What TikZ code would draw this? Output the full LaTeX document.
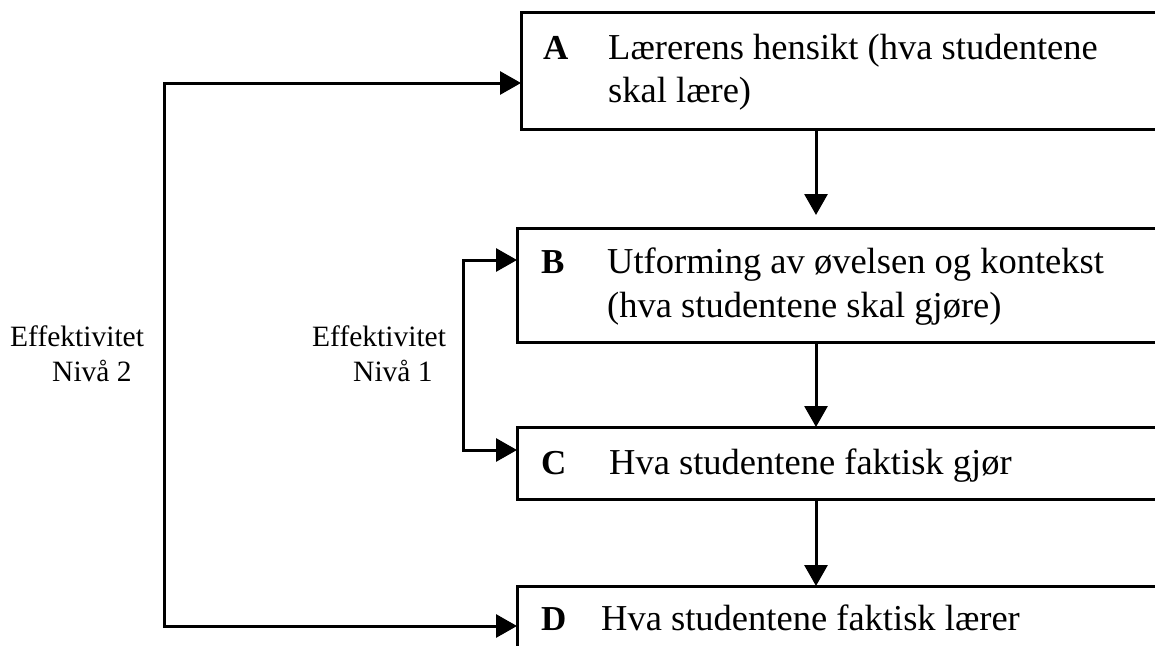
\documentclass[tikz,border=0pt]{standalone}
\usepackage{fontspec}
\setmainfont{Liberation Serif}
\usetikzlibrary{arrows.meta}

\begin{document}
\begin{tikzpicture}
[x=1pt,y=-1pt,
  boxdecorate/.style={shape=rectangle,draw,line width=3pt,anchor=north west,outer sep=0pt,inner sep=0pt,minimum width=800pt},%
  arrowdecorate/.style={-{Triangle[length=21pt,width=23pt]},line width=3pt},%
  loopdecorate/.style={{Triangle[length=21pt,width=23pt]}-{Triangle[length=21pt,width=23pt]},line width=3pt},%
  letterdecorate/.style={anchor=base west,inner sep=0pt,font=\bfseries\fontsize{35}{40}\selectfont},%
  textdecorate/.style={anchor=base west,inner sep=0pt,font=\fontsize{36.5}{44}\selectfont},%
  labeldecorate/.style={anchor=base west,inner sep=0pt,font=\fontsize{29.5}{35}\selectfont}]
\useasboundingbox (0,0) rectangle (1155,645);
\clip (0,0) rectangle (1155,645);
%% boxes
\foreach \nodename/\x/\y/\h in {
  boxA/521/12/117, boxB/517/228/114, boxC/517/427/72, boxD/517/586/120}
{
  \node (\nodename) at (\x,\y) [boxdecorate,minimum height=\h pt] {};
}
%% letters and texts in the boxes
\foreach \nodename/\x/\y/\txt in {
  letterA/543/59/A, letterB/541/273/B, letterC/541/474/C, letterD/541/630/D}
{
  \node (\nodename) at (\x,\y) [letterdecorate] {\txt};
}
\foreach \nodename/\x/\y/\txt in {
  textA1/608/59/Lærerens hensikt (hva studentene, textA2/608/102/skal lære),
  textB1/607/273/Utforming av øvelsen og kontekst,
  textB2/607/317/(hva studentene skal gjøre),
  textC/609/474/Hva studentene faktisk gjør,
  textD/601/630/Hva studentene faktisk lærer}
{
  \node (\nodename) at (\x,\y) [textdecorate] {\txt};
}
%% labels
\foreach \nodename/\x/\y/\txt in {
  effektivitet2/10/346/Effektivitet, niva2/52/381/Nivå 2,
  effektivitet1/312/346/Effektivitet, niva1/353/381/Nivå 1}
{
  \node (\nodename) at (\x,\y) [labeldecorate] {\txt};
}
%% arrows down
\coordinate (down) at (816,0);
\path
\foreach \startnode/\endnode/\gap in {boxA/boxB/13, boxB/boxC/0, boxC/boxD/0}
{
  (\startnode.south -| down) edge[arrowdecorate,shorten >=\gap pt] (\endnode.north -| down)
};
%% feedback loops
\coordinate (outertop) at (164,83);
\coordinate (outerbot) at (164,626);
\coordinate (innertop) at (463,260);
\coordinate (innerbot) at (463,450);
\draw[loopdecorate] (boxA.west |- outertop) -- (outertop) -- (outerbot) -- (boxD.west |- outerbot);
\draw[loopdecorate] (boxB.west |- innertop) -- (innertop) -- (innerbot) -- (boxC.west |- innerbot);
\end{tikzpicture}
\end{document}
